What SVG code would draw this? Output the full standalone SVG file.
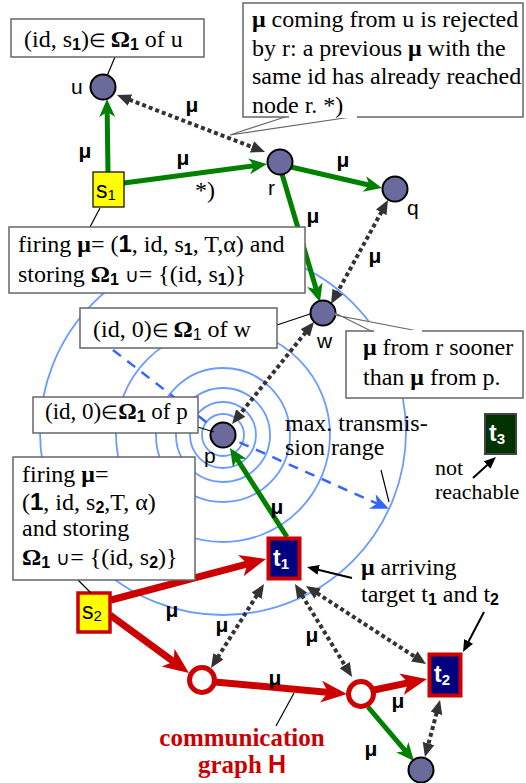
<svg xmlns="http://www.w3.org/2000/svg" width="526" height="783" viewBox="0 0 526 783">
<defs>
<style>
.box{fill:#fff;stroke:#666;stroke-width:1.5}
.ptr{stroke:#000;stroke-width:1.2;fill:none}
.wedge{fill:#fff;stroke:#666;stroke-width:1.2}
.ser{font-family:"Liberation Serif","Times New Roman",serif;font-size:24px;fill:#000}
.b{font-weight:bold}
.el{font-size:19px}
.cup{font-size:19px}
.sb{font-family:"Liberation Sans",Arial,sans-serif;font-weight:bold}
.sub{font-family:"Liberation Sans",Arial,sans-serif;font-size:16px;font-weight:bold}
.subr{font-family:"Liberation Sans",Arial,sans-serif;font-size:16px}
.lbl{font-family:"Liberation Sans",Arial,sans-serif;font-size:21px;fill:#000}
.mu{font-family:"Liberation Sans",Arial,sans-serif;font-size:21px;font-weight:bold;text-anchor:middle;fill:#000}
.node{fill:#6a6a9c;stroke:#000;stroke-width:2}
.rnode{fill:#fff;stroke:#cc0000;stroke-width:5}
.ring{fill:none;stroke:#6b9bff;stroke-width:1.8}
.dash{fill:none;stroke:#3366ff;stroke-width:2.5;stroke-dasharray:10 8}
.green{stroke:#008000;stroke-width:5;fill:none;marker-end:url(#ag)}
.red{stroke:#cc0000;stroke-width:7;fill:none;marker-end:url(#ar)}
.dot{stroke:#333;stroke-width:4;stroke-dasharray:4 3;fill:none;marker-start:url(#ad);marker-end:url(#ad)}
.blk{stroke:#000;stroke-width:2;fill:none;marker-end:url(#ak)}
.tbox{font-family:"Liberation Sans",Arial,sans-serif;font-size:23px;font-weight:bold;fill:#fff}
.sbox{font-family:"Liberation Sans",Arial,sans-serif;font-size:23px;fill:#000}
.cg{font-family:"Liberation Serif","Times New Roman",serif;font-size:25px;font-weight:bold;fill:#cc0000;text-anchor:middle}
</style>
<marker id="ag" markerUnits="userSpaceOnUse" markerWidth="20" markerHeight="20" refX="10" refY="9" orient="auto"><path d="M0,1 L18,9 L0,17 L5,9 z" fill="#008000"/></marker>
<marker id="ar" markerUnits="userSpaceOnUse" markerWidth="28" markerHeight="24" refX="14" refY="11" orient="auto"><path d="M0,0 L26,11 L0,22 L7,11 z" fill="#cc0000"/></marker>
<marker id="ad" markerUnits="userSpaceOnUse" markerWidth="16" markerHeight="14" refX="8" refY="6" orient="auto-start-reverse"><path d="M0,0 L14,6 L0,12 z" fill="#333"/></marker>
<marker id="ak" markerUnits="userSpaceOnUse" markerWidth="14" markerHeight="12" refX="8" refY="5" orient="auto"><path d="M0,0 L12,5 L0,10 z" fill="#000"/></marker>
<marker id="ab" markerUnits="userSpaceOnUse" markerWidth="20" markerHeight="18" refX="16" refY="8" orient="auto"><path d="M0,0 L18,8 L0,16 L5,8 z" fill="#3366ff"/></marker>
</defs>

<g id="range">
<circle class="ring" cx="223" cy="435" r="21"/>
<circle class="ring" cx="223" cy="435" r="33"/>
<circle class="ring" cx="223" cy="435" r="47"/>
<circle class="ring" cx="223" cy="435" r="67"/>
<circle class="ring" cx="223" cy="435" r="107"/>
<circle class="ring" cx="223" cy="432" r="183"/>
<line class="dash" x1="113" y1="350" x2="223" y2="435"/>
<line class="dash" x1="223" y1="435" x2="387" y2="508" style="marker-end:url(#ab)"/>
</g>

<g id="connectors">
<path class="green" d="M108,172 L107.1,107"/>
<path class="green" d="M124,183 L259.1,165.1"/>
<path class="green" d="M291,167 L374.2,186.2"/>
<path class="green" d="M282,174 L317.7,294.3"/>
<path class="green" d="M287,537 L234.3,454.7"/>
<path class="green" d="M368,707 L408.8,754.9"/>
<path class="red" d="M111,600 L254.4,562.1"/>
<path class="red" d="M110,615 L179.3,665.9"/>
<path class="red" d="M215,682 L335,692.9"/>
<path class="red" d="M374,690 L415.2,681.4"/>
<path class="dot" d="M122.6,97.2 L259.4,149.8"/>
<path class="dot" d="M385.1,205.3 L333.9,298.7"/>
<path class="dot" d="M310.2,326.7 L235.8,419.3"/>
<path class="dot" d="M260.8,589.1 L214.2,662.9"/>
<path class="dot" d="M298.1,589.1 L348.9,671.9"/>
<path class="dot" d="M311,589.3 L421,660.7"/>
<path class="dot" d="M438.5,705.8 L426.5,751.2"/>
<path class="blk" d="M473,478 L493,459.7"/>
<path class="blk" d="M352,578 L310.9,568"/>
<path class="blk" d="M484,612 L464.9,648.5"/>
<line class="ptr" x1="276" y1="726" x2="294" y2="693"/>
</g>

<g id="mu-labels">
<text class="mu" x="85" y="158">μ</text>
<text class="mu" x="183" y="165">μ</text>
<text class="mu" x="192" y="112">μ</text>
<text class="mu" x="343" y="167">μ</text>
<text class="mu" x="313" y="223">μ</text>
<text class="mu" x="375" y="263">μ</text>
<text class="mu" x="277" y="514">μ</text>
<text class="mu" x="172" y="617">μ</text>
<text class="mu" x="222" y="632">μ</text>
<text class="mu" x="312" y="642">μ</text>
<text class="mu" x="275" y="685">μ</text>
<text class="mu" x="398" y="708">μ</text>
<text class="mu" x="371" y="756">μ</text>
<text class="ser" x="195" y="198">*)</text>
</g>

<g id="u"><circle class="node" cx="103" cy="87" r="12.5"/><text class="lbl" x="71" y="94">u</text></g>
<g id="r"><circle class="node" cx="280" cy="162" r="12.5"/><text class="lbl" x="268" y="195">r</text></g>
<g id="q"><circle class="node" cx="395" cy="189" r="12.5"/><text class="lbl" x="407" y="215">q</text></g>
<g id="w"><circle class="node" cx="323" cy="313" r="12.5"/><text class="lbl" x="317" y="348">w</text></g>
<g id="p"><circle class="node" cx="223" cy="435" r="12.5"/><text class="lbl" x="204" y="463">p</text></g>
<g id="n-bottom"><circle class="node" cx="421" cy="770" r="12.5"/></g>
<g id="c1"><circle class="rnode" cx="202" cy="680" r="12.5"/></g>
<g id="c2"><circle class="rnode" cx="361" cy="694" r="12.5"/></g>

<g id="s1"><rect x="93" y="172" width="31" height="35" fill="#ffff00" stroke="#000" stroke-width="1.2"/><text class="sbox" x="96" y="198">s<tspan font-size="15" dy="2">1</tspan></text></g>
<g id="s2"><rect x="78" y="593" width="32" height="39" fill="#ffff00" stroke="#cc0000" stroke-width="3.5"/><text class="sbox" x="82" y="619">s<tspan font-size="15" dy="2">2</tspan></text></g>
<g id="t1"><rect x="268.5" y="538.5" width="31" height="40" fill="#000080" stroke="#cc0000" stroke-width="4"/><text class="tbox" x="273" y="566">t<tspan font-size="15" dy="3">1</tspan></text></g>
<g id="t2"><rect x="429.5" y="654.5" width="31" height="41" fill="#000080" stroke="#cc0000" stroke-width="4"/><text class="tbox" x="434" y="682">t<tspan font-size="15" dy="3">2</tspan></text></g>
<g id="t3"><rect x="485" y="414" width="31" height="40" fill="#003300" stroke="#444" stroke-width="2"/><text class="tbox" x="489" y="441">t<tspan font-size="15" dy="3">3</tspan></text></g>

<g id="callout-u">
<line class="ptr" x1="115" y1="57" x2="107" y2="76"/>
<rect class="box" x="11" y="19" width="193" height="38"/>
<text class="ser" x="24" y="47">(id, s<tspan class="sub" dy="3">1</tspan><tspan dy="-3">)</tspan><tspan class="el">∈ </tspan><tspan class="b">Ω</tspan><tspan class="sub" dy="3">1</tspan><tspan dy="-3"> of u</tspan></text>
</g>

<g id="callout-reject">
<polygon class="wedge" points="288,116 358,116 230,135"/>
<rect class="box" x="243" y="3" width="280" height="114"/>
<line x1="289" y1="117" x2="357" y2="117" stroke="#fff" stroke-width="2"/>
<text class="ser" x="252" y="27"><tspan class="b">μ</tspan> coming from u is rejected<tspan x="252" dy="28.5">by r: a previous </tspan><tspan class="b">μ</tspan> with the<tspan x="252" dy="28.5">same id has already reached</tspan><tspan x="252" dy="28.5">node r. *)</tspan></text>
</g>

<g id="callout-fire1">
<line class="ptr" x1="90" y1="227" x2="100" y2="208"/>
<rect class="box" x="9" y="227" width="296" height="66"/>
<text class="ser" x="18" y="252">firing <tspan class="b">μ</tspan>= (<tspan class="sb">1</tspan>, id, s<tspan class="sub" dy="3">1</tspan><tspan dy="-3">, T,α) and</tspan><tspan x="18" dy="30">storing </tspan><tspan class="b">Ω</tspan><tspan class="sub" dy="3">1</tspan><tspan dy="-3"> </tspan><tspan class="cup">∪</tspan>= {(id, s<tspan class="sub" dy="3">1</tspan><tspan dy="-3">)}</tspan></text>
</g>

<g id="callout-w">
<line class="ptr" x1="277" y1="325" x2="310" y2="314"/>
<rect class="box" x="80" y="308" width="197" height="40"/>
<text class="ser" x="93" y="337">(id, 0)<tspan class="el">∈ </tspan><tspan class="b">Ω</tspan><tspan class="subr" dy="3">1</tspan><tspan dy="-3"> of w</tspan></text>
</g>

<g id="callout-sooner">
<polygon class="wedge" points="335,313 373,332 423,332 335,315"/>
<rect class="box" x="346" y="331" width="177" height="67"/>
<line x1="374" y1="331" x2="422" y2="331" stroke="#fff" stroke-width="2"/>
<text class="ser" x="363" y="355"><tspan class="b">μ</tspan> from r sooner<tspan x="363" dy="30">than </tspan><tspan class="b">μ</tspan>  from p.</text>
</g>

<g id="callout-p">
<line class="ptr" x1="188" y1="424" x2="214" y2="432"/>
<rect class="box" x="33" y="397" width="165" height="36"/>
<text class="ser" x="45" y="419" style="font-size:23px">(id, 0)<tspan class="el">∈</tspan><tspan class="b">Ω</tspan><tspan class="sub" dy="3">1</tspan><tspan dy="-3"> of p</tspan></text>
</g>

<g id="callout-fire2">
<line class="ptr" x1="78" y1="580" x2="91" y2="593"/>
<rect class="box" x="13" y="457" width="182" height="123"/>
<text class="ser" x="22" y="482">firing <tspan class="b">μ</tspan>=<tspan x="22" dy="28">(</tspan><tspan class="sb">1</tspan>, id, s<tspan class="sub" dy="3">2</tspan><tspan dy="-3">,T, α)</tspan><tspan x="22" dy="26">and storing</tspan><tspan x="22" dy="29" class="b">Ω</tspan><tspan class="sub" dy="3">1</tspan><tspan dy="-3"> </tspan><tspan class="cup">∪</tspan>= {(id, s<tspan class="sub" dy="3">2</tspan><tspan dy="-3">)}</tspan></text>
</g>

<g id="note-range">
<line class="ptr" x1="381" y1="470" x2="389" y2="502"/>
<text class="ser" x="285" y="431">max. transmis-<tspan x="285" dy="24">sion range</tspan></text>
</g>

<g id="note-unreachable">
<text class="ser" x="435" y="475" style="font-size:22px">not<tspan x="435" dy="24">reachable</tspan></text>
</g>

<g id="note-arriving">
<text class="ser" x="361" y="575"><tspan class="b">μ</tspan> arriving<tspan x="361" dy="27">target t</tspan><tspan class="sub" dy="3">1</tspan><tspan dy="-3"> and t</tspan><tspan class="sub" dy="3">2</tspan></text>
</g>

<g id="title">
<text class="cg" x="242" y="746">communication<tspan x="242" dy="27">graph </tspan><tspan font-family="Liberation Sans, Arial, sans-serif">H</tspan></text>
</g>
</svg>
